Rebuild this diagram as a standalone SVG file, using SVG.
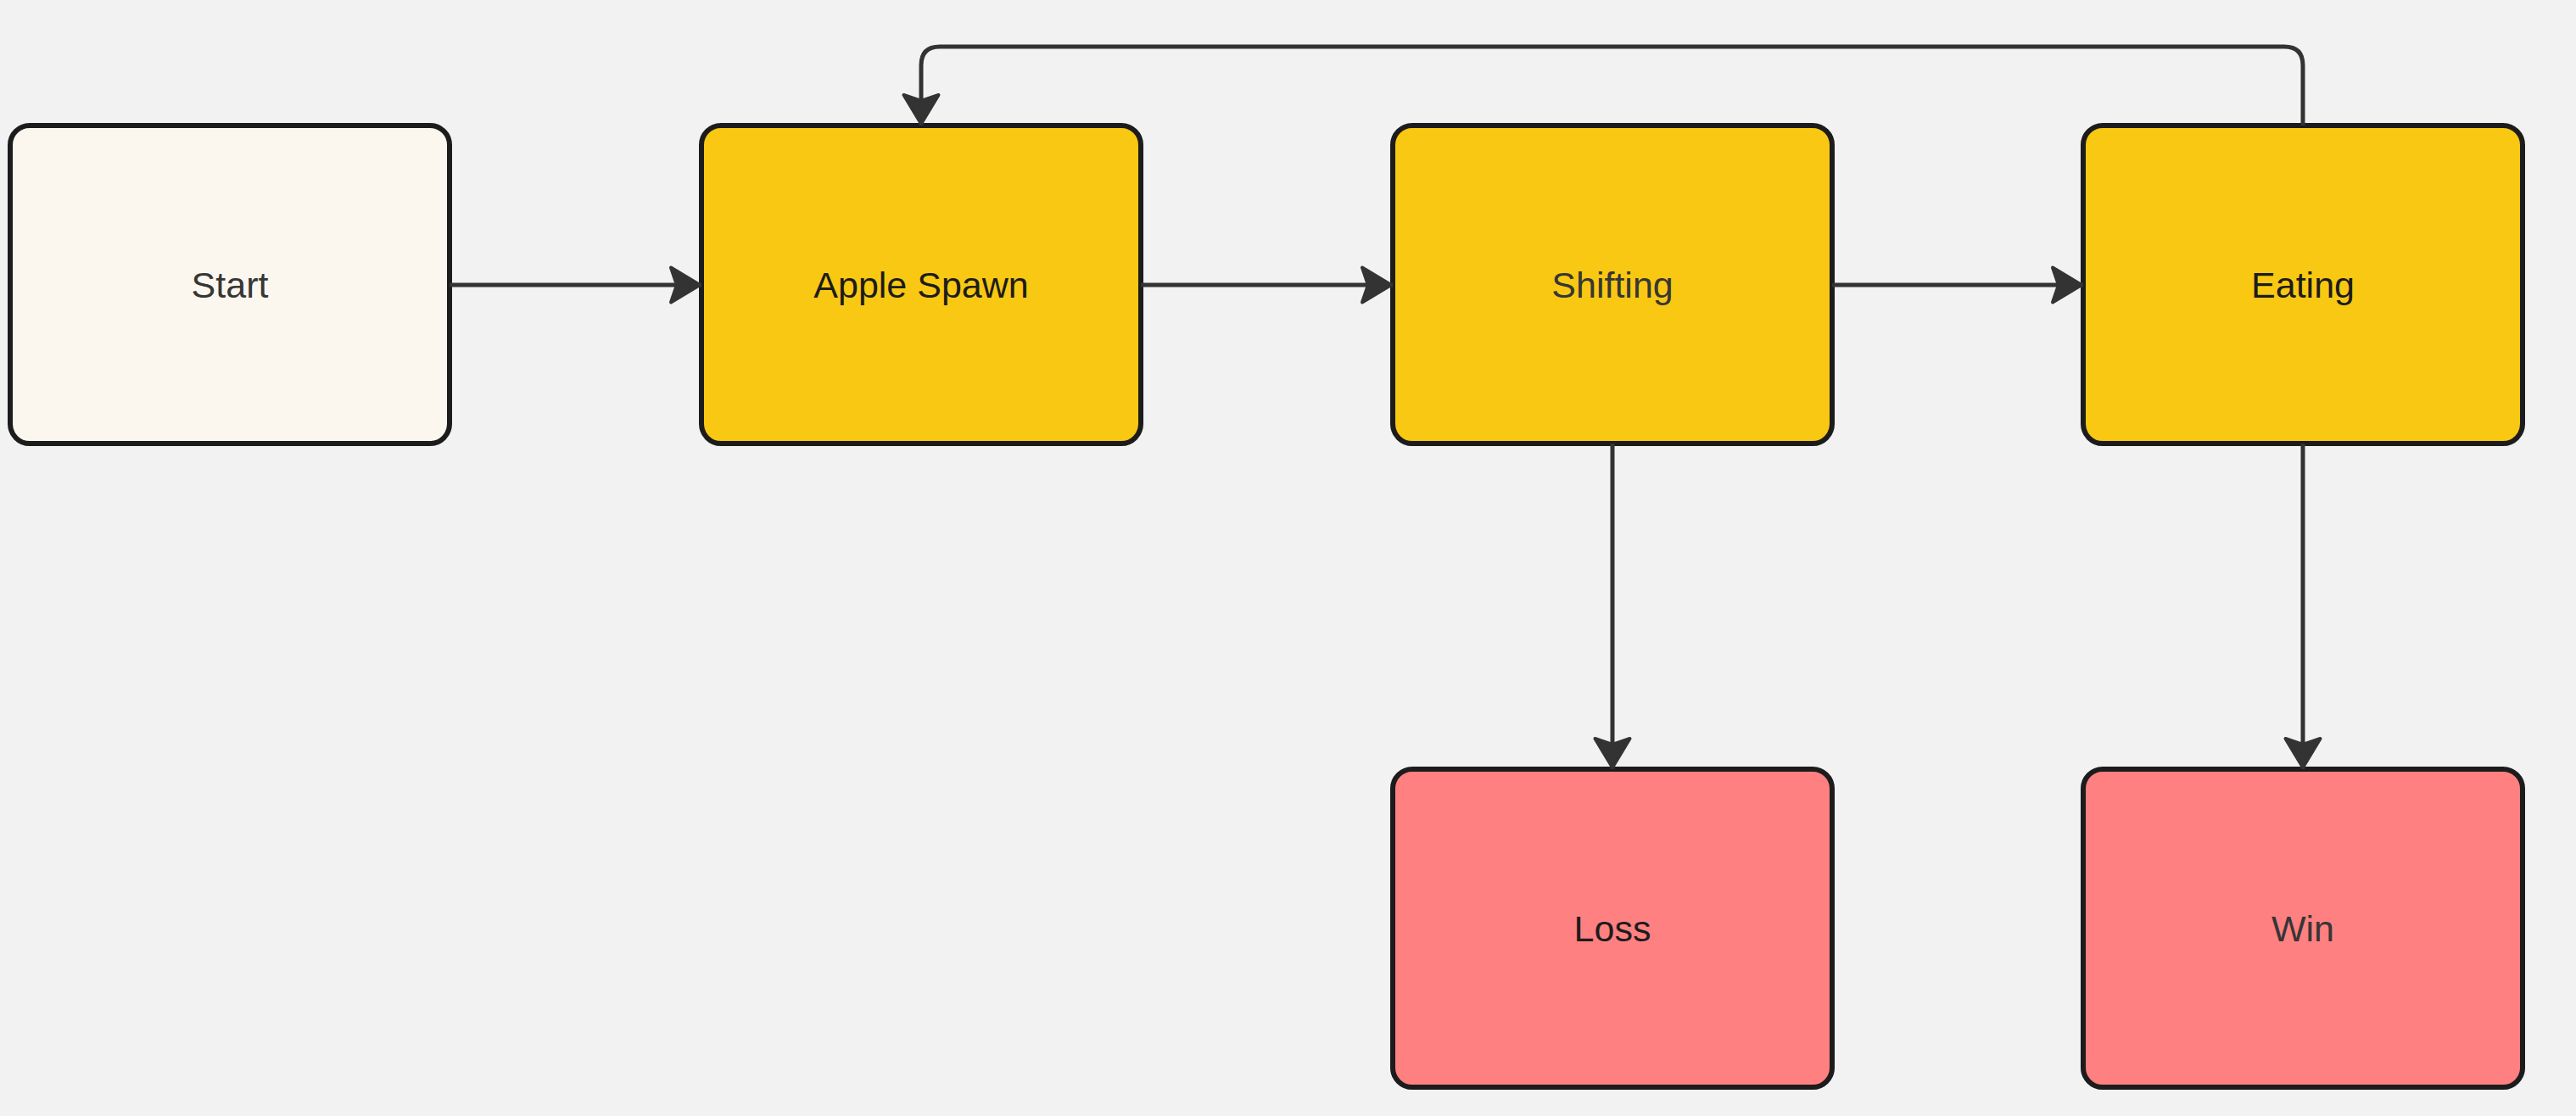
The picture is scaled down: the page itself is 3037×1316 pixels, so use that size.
<svg xmlns="http://www.w3.org/2000/svg" width="3037" height="1316" viewBox="0 0 3037 1316">
  <style>
    .node rect { stroke: #1c1c1c; stroke-width: 6; }
    .start rect { fill: #fbf7ef; }
    .state rect { fill: #f9c812; }
    .end rect { fill: #ff8080; }
    .node text { font-family: "Liberation Sans", Arial, Helvetica, sans-serif; font-size: 43px; text-anchor: middle; }
    .dark { fill: #1c1c1c; }
    .grey { fill: #363636; }
    .edge { fill: none; stroke: #333333; stroke-width: 5; marker-end: url(#arrow); }
  </style>
  <defs>
    <marker id="arrow" viewBox="-42 -26 44 52" refX="0" refY="0" markerWidth="44" markerHeight="52" markerUnits="userSpaceOnUse" orient="auto">
      <path d="M -2,0 L -36,-20.5 L -29,0 L -36,20.5 Z" fill="#333333" stroke="#333333" stroke-width="4" stroke-linejoin="round"/>
    </marker>
  </defs>
  <rect x="0" y="0" width="3037" height="1316" fill="#f2f2f2"/>

  <g id="node-start" class="node start">
    <rect x="12" y="148" width="518" height="375" rx="23" ry="23"/>
    <text class="grey" x="271" y="350.5">Start</text>
  </g>
  <g id="node-apple-spawn" class="node state">
    <rect x="827" y="148" width="518" height="375" rx="23" ry="23"/>
    <text class="dark" x="1086" y="350.5">Apple Spawn</text>
  </g>
  <g id="node-shifting" class="node state">
    <rect x="1642" y="148" width="518" height="375" rx="23" ry="23"/>
    <text class="grey" x="1901" y="350.5">Shifting</text>
  </g>
  <g id="node-eating" class="node state">
    <rect x="2456" y="148" width="518" height="375" rx="23" ry="23"/>
    <text class="dark" x="2715" y="350.5">Eating</text>
  </g>
  <g id="node-loss" class="node end">
    <rect x="1642" y="907" width="518" height="375" rx="23" ry="23"/>
    <text class="dark" x="1901" y="1109.5">Loss</text>
  </g>
  <g id="node-win" class="node end">
    <rect x="2456" y="907" width="518" height="375" rx="23" ry="23"/>
    <text class="grey" x="2715" y="1109.5">Win</text>
  </g>

  <g id="connectors">
    <path class="edge" d="M 530,336 L 827,336"/>
    <path class="edge" d="M 1345,336 L 1642,336"/>
    <path class="edge" d="M 2160,336 L 2456,336"/>
    <path class="edge" d="M 1901,523 L 1901,907"/>
    <path class="edge" d="M 2715,523 L 2715,907"/>
    <path class="edge" d="M 2715,148 L 2715,77 Q 2715,55 2693,55 L 1108,55 Q 1086,55 1086,77 L 1086,148"/>
  </g>
</svg>
